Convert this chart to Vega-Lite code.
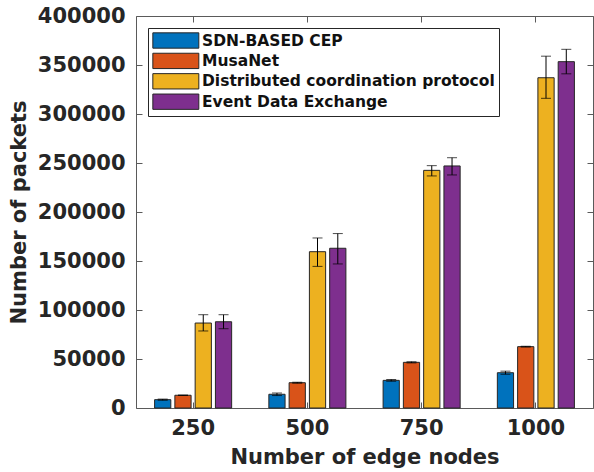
{
  "$schema": "https://vega.github.io/schema/vega-lite/v6.json",
  "width": 457,
  "height": 392,
  "autosize": {"type": "none"},
  "padding": {"left": 136, "top": 16, "right": 1, "bottom": 64},
  "background": "white",
  "config": {
    "font": "DejaVu Sans",
    "view": {"stroke": null},
    "axis": {
      "domainColor": "#5a5a5a",
      "domainWidth": 1,
      "tickColor": "#5a5a5a",
      "tickWidth": 1,
      "tickSize": -6,
      "grid": false,
      "labelFont": "DejaVu Sans",
      "labelFontSize": 21,
      "labelFontWeight": "bold",
      "labelColor": "#262626",
      "titleFont": "DejaVu Sans",
      "titleFontSize": 21,
      "titleFontWeight": "bold",
      "titleColor": "#262626"
    },
    "legend": {
      "labelFont": "DejaVu Sans",
      "labelFontSize": 15.5,
      "labelFontWeight": "bold",
      "labelColor": "#111111",
      "labelLimit": 500
    }
  },
  "data": {
    "values": [
      {"nodes": 250, "method": "SDN-BASED CEP", "value": 8500, "lo": 7900, "hi": 9100},
      {"nodes": 250, "method": "MusaNet", "value": 13000, "lo": 12800, "hi": 13200},
      {"nodes": 250, "method": "Distributed coordination protocol", "value": 86700, "lo": 78600, "hi": 95200},
      {"nodes": 250, "method": "Event Data Exchange", "value": 88000, "lo": 80900, "hi": 95200},
      {"nodes": 500, "method": "SDN-BASED CEP", "value": 14000, "lo": 12700, "hi": 15300},
      {"nodes": 500, "method": "MusaNet", "value": 25800, "lo": 25300, "hi": 26300},
      {"nodes": 500, "method": "Distributed coordination protocol", "value": 159500, "lo": 144500, "hi": 173500},
      {"nodes": 500, "method": "Event Data Exchange", "value": 163000, "lo": 147000, "hi": 178000},
      {"nodes": 750, "method": "SDN-BASED CEP", "value": 28200, "lo": 27300, "hi": 29100},
      {"nodes": 750, "method": "MusaNet", "value": 46600, "lo": 46000, "hi": 47200},
      {"nodes": 750, "method": "Distributed coordination protocol", "value": 242500, "lo": 236800, "hi": 247300},
      {"nodes": 750, "method": "Event Data Exchange", "value": 247000, "lo": 237800, "hi": 255400},
      {"nodes": 1000, "method": "SDN-BASED CEP", "value": 36000, "lo": 34400, "hi": 37600},
      {"nodes": 1000, "method": "MusaNet", "value": 62600, "lo": 62200, "hi": 63000},
      {"nodes": 1000, "method": "Distributed coordination protocol", "value": 337000, "lo": 316000, "hi": 359000},
      {"nodes": 1000, "method": "Event Data Exchange", "value": 353400, "lo": 341000, "hi": 366000}
    ]
  },
  "layer": [
    {
      "mark": {"type": "bar", "stroke": "#262626", "strokeWidth": 1},
      "encoding": {
        "x": {
          "field": "nodes", "type": "ordinal", "sort": [250, 500, 750, 1000],
          "scale": {"paddingInner": 0.29, "paddingOuter": 0.145},
          "axis": {"orient": "bottom", "labelAngle": 0, "labelPadding": 15, "title": "Number of edge nodes", "titlePadding": 8}
        },
        "xOffset": {
          "field": "method",
          "sort": ["SDN-BASED CEP", "MusaNet", "Distributed coordination protocol", "Event Data Exchange"],
          "scale": {"paddingInner": 0.2, "paddingOuter": 0.1}
        },
        "y": {
          "field": "value", "type": "quantitative",
          "scale": {"domain": [0, 400000], "nice": false, "zero": true},
          "axis": {"orient": "left", "values": [0, 50000, 100000, 150000, 200000, 250000, 300000, 350000, 400000], "format": "d", "labelPadding": 17, "title": "Number of packets", "titlePadding": 8}
        },
        "color": {
          "field": "method", "type": "nominal",
          "scale": {
            "domain": ["SDN-BASED CEP", "MusaNet", "Distributed coordination protocol", "Event Data Exchange"],
            "range": ["#0072BD", "#D95319", "#EDB120", "#7E2F8E"]
          },
          "legend": {
            "title": null,
            "orient": "none",
            "legendX": 12,
            "legendY": 12,
            "symbolType": "M-1,-1H5V1H-1Z",
            "symbolSize": 235,
            "symbolStrokeColor": "#262626",
            "symbolStrokeWidth": 1,
            "symbolOpacity": 1,
            "labelOffset": 33,
            "rowPadding": -0.6,
            "padding": 4,
            "fillColor": "white",
            "strokeColor": "#262626"
          }
        }
      }
    },
    {
      "mark": {"type": "rule", "color": "black", "strokeWidth": 1},
      "encoding": {
        "x": {"field": "nodes", "type": "ordinal", "sort": [250, 500, 750, 1000], "axis": {"orient": "top", "labels": false, "title": null}},
        "xOffset": {"field": "method", "sort": ["SDN-BASED CEP", "MusaNet", "Distributed coordination protocol", "Event Data Exchange"]},
        "y": {"field": "lo", "type": "quantitative", "axis": {"orient": "right", "labels": false, "title": null, "values": [0, 50000, 100000, 150000, 200000, 250000, 300000, 350000, 400000]}},
        "y2": {"field": "hi"}
      }
    },
    {
      "mark": {"type": "tick", "color": "black", "size": 10, "thickness": 1},
      "encoding": {
        "x": {"field": "nodes", "type": "ordinal", "sort": [250, 500, 750, 1000], "axis": null},
        "xOffset": {"field": "method", "sort": ["SDN-BASED CEP", "MusaNet", "Distributed coordination protocol", "Event Data Exchange"]},
        "y": {"field": "hi", "type": "quantitative", "axis": null}
      }
    },
    {
      "mark": {"type": "tick", "color": "black", "size": 10, "thickness": 1},
      "encoding": {
        "x": {"field": "nodes", "type": "ordinal", "sort": [250, 500, 750, 1000], "axis": null},
        "xOffset": {"field": "method", "sort": ["SDN-BASED CEP", "MusaNet", "Distributed coordination protocol", "Event Data Exchange"]},
        "y": {"field": "lo", "type": "quantitative", "axis": null}
      }
    }
  ],
  "resolve": {"axis": {"x": "independent", "y": "independent"}}
}
